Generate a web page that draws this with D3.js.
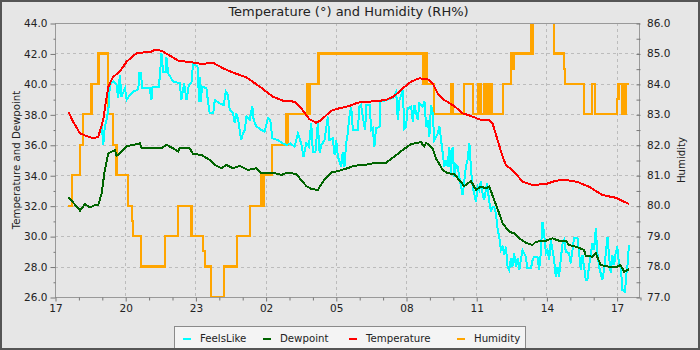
<!DOCTYPE html>
<html>
<head>
<meta charset="utf-8">
<script src="https://cdn.jsdelivr.net/npm/d3@7"></script>
<style>
  html, body { margin: 0; padding: 0; background: #e6e6e6; }
  svg { display: block; font-family: "DejaVu Sans", sans-serif; }
</style>
</head>
<body>
<svg id="chart" width="700" height="350"></svg>
<script>
// ---- data (hours after 17:00, value) ----
const xTickLabels = ["17","20","23","02","05","08","11","14","17"];
const leftTicks = [26,28,30,32,34,36,38,40,42,44];
const rightTicks = [77,78,79,80,81,82,83,84,85,86];
const seriesNames = ["FeelsLike","Dewpoint","Temperature","Humidity"];

const temperature = [[0.57,38.17],[0.78,37.5],[1.07,36.75],[1.3,36.6],[1.64,36.43],[1.85,36.53],[2.06,37.63],[2.17,38.8],[2.28,39.82],[2.49,40.47],[2.77,40.8],[3.06,41.46],[3.48,42.01],[4.12,42.12],[4.27,42.23],[4.55,42.18],[4.98,41.79],[5.26,41.53],[5.83,41.42],[6.26,41.31],[6.75,41.39],[7.18,41.03],[7.61,40.74],[8.18,40.43],[8.75,39.82],[9.31,39.16],[9.74,38.9],[10.24,38.83],[10.52,38.4],[10.88,37.67],[11.16,37.45],[11.38,37.63],[11.8,38.24],[12.16,38.4],[12.58,38.55],[12.94,38.77],[13.65,38.86],[14.15,38.94],[14.5,39.2],[14.86,39.71],[15.22,40.15],[15.57,40.37],[15.93,40.3],[16.14,40.04],[16.35,39.38],[16.64,38.94],[17.06,38.55],[17.42,38.07],[17.78,37.89],[18.2,37.63],[18.56,37.63],[18.7,37.41],[18.91,36.32],[19.13,35.22],[19.27,34.67],[19.62,34.23],[19.98,33.58],[20.41,33.36],[20.98,33.42],[21.4,33.64],[21.83,33.69],[22.32,33.56],[22.82,33.25],[23.39,32.7],[23.96,32.52],[24.53,32.11]];

const dewpoint = [[0.57,32.55],[0.78,32.2],[1.07,31.67],[1.28,32.11],[1.49,31.89],[1.71,32.04],[1.85,32.04],[1.99,32.8],[2.13,34.35],[2.28,35.44],[2.42,35.55],[2.56,35.66],[2.63,35.26],[2.84,35.55],[3.06,35.92],[3.34,35.99],[3.63,36.1],[3.7,35.77],[4.27,35.81],[4.55,35.77],[4.77,35.99],[5.05,35.77],[5.26,35.55],[5.33,35.81],[5.76,35.77],[5.9,35.4],[6.26,35.33],[6.61,35.0],[6.83,34.67],[7.11,34.46],[7.33,34.67],[7.61,34.46],[7.89,34.61],[8.25,34.35],[8.6,34.46],[8.82,34.13],[9.31,34.17],[9.67,34.02],[9.95,34.17],[10.31,34.08],[10.52,33.69],[10.74,33.29],[10.95,33.1],[11.23,33.03],[11.45,33.58],[11.8,34.17],[12.16,34.3],[12.58,34.5],[12.8,34.63],[13.23,34.67],[13.72,34.82],[14.15,34.82],[14.5,35.22],[14.86,35.66],[15.22,36.05],[15.64,36.18],[15.78,35.88],[15.86,36.14],[16.14,35.77],[16.28,35.11],[16.57,34.35],[16.78,34.13],[17.06,34.08],[17.27,33.69],[17.49,33.29],[17.78,33.62],[17.99,33.03],[18.2,33.25],[18.42,33.14],[18.56,33.25],[18.77,32.37],[18.98,31.5],[19.13,30.84],[19.41,30.29],[19.62,30.18],[19.84,29.85],[20.12,29.57],[20.41,29.42],[20.55,29.63],[20.98,29.7],[21.26,29.85],[21.54,29.7],[21.83,29.7],[21.97,29.42],[22.25,29.31],[22.61,29.09],[22.68,28.69],[22.97,28.65],[23.11,28.87],[23.32,28.1],[23.68,27.99],[23.96,27.95],[24.17,28.1],[24.32,27.66],[24.53,27.82]];

const feelsLike = [[0.57,38.17],[0.78,37.5],[1.07,36.75],[1.3,36.6],[1.64,36.43],[1.85,36.53],[2.0,37.3],[2.06,35.98],[2.13,37.19],[2.2,37.63],[2.28,38.28],[2.35,40.04],[2.49,40.15],[2.63,39.93],[2.7,39.05],[2.77,40.58],[2.84,39.16],[2.99,39.71],[3.06,38.94],[3.2,39.27],[3.34,39.49],[3.56,39.64],[3.6,40.69],[3.67,40.69],[3.73,39.71],[4.05,39.71],[4.12,38.94],[4.17,39.82],[4.44,39.82],[4.49,40.69],[4.55,42.0],[4.62,40.8],[4.74,40.8],[4.76,41.79],[4.84,40.69],[5.05,40.15],[5.33,40.04],[5.4,38.94],[5.52,40.04],[5.62,38.94],[5.72,39.93],[5.83,40.04],[5.9,41.35],[6.09,41.13],[6.16,38.83],[6.19,40.47],[6.22,38.83],[6.29,39.82],[6.47,39.71],[6.54,38.83],[6.61,38.06],[6.76,38.06],[6.83,38.94],[7.04,38.72],[7.21,38.61],[7.3,39.49],[7.39,39.27],[7.47,38.28],[7.61,38.06],[7.68,37.41],[7.75,38.06],[7.82,37.74],[7.89,36.97],[7.96,36.31],[8.03,36.75],[8.11,36.97],[8.18,37.85],[8.32,37.63],[8.43,38.55],[8.49,37.63],[8.6,37.23],[8.82,36.97],[8.96,36.86],[9.1,37.74],[9.2,37.63],[9.29,36.42],[9.53,36.31],[9.74,36.09],[9.91,35.98],[10.05,36.09],[10.24,35.88],[10.38,36.75],[10.52,36.09],[10.62,35.22],[10.74,36.09],[10.85,35.88],[10.95,37.41],[11.02,35.55],[11.13,35.55],[11.23,37.41],[11.31,35.44],[11.38,35.98],[11.52,36.31],[11.66,37.85],[11.73,36.31],[11.87,36.42],[11.95,35.33],[12.02,36.31],[12.09,35.22],[12.23,34.56],[12.3,35.55],[12.37,34.56],[12.44,36.09],[12.51,36.75],[12.58,37.85],[12.66,38.5],[12.73,36.97],[12.94,36.97],[13.01,38.5],[13.08,38.61],[13.15,37.85],[13.25,36.97],[13.31,38.61],[13.45,38.61],[13.51,36.97],[13.58,37.08],[13.65,35.88],[13.72,37.08],[13.87,37.19],[13.91,38.83],[14.15,38.94],[14.45,39.1],[14.58,39.49],[14.65,37.63],[14.72,38.94],[14.86,39.6],[14.93,37.08],[15.0,37.19],[15.07,38.39],[15.22,38.5],[15.29,37.52],[15.36,38.61],[15.5,37.63],[15.57,38.72],[15.71,38.5],[15.79,38.83],[15.86,37.19],[15.93,37.63],[16.0,36.53],[16.07,38.61],[16.14,38.06],[16.21,36.31],[16.33,36.64],[16.43,37.19],[16.5,36.31],[16.57,35.44],[16.64,34.56],[16.71,35.0],[16.78,34.56],[16.85,35.88],[16.92,34.12],[16.99,35.88],[17.07,33.9],[17.14,34.67],[17.21,34.56],[17.28,33.9],[17.35,33.25],[17.42,32.7],[17.49,33.58],[17.56,34.56],[17.63,35.0],[17.71,36.09],[17.78,34.34],[17.85,33.25],[17.99,32.26],[18.06,33.25],[18.13,33.03],[18.2,33.58],[18.27,32.81],[18.34,32.37],[18.46,33.47],[18.56,32.26],[18.63,31.6],[18.7,31.93],[18.77,31.93],[18.84,31.5],[18.91,30.51],[18.98,29.96],[19.06,29.09],[19.13,29.31],[19.2,28.76],[19.27,29.31],[19.34,27.99],[19.41,27.77],[19.48,28.54],[19.55,27.99],[19.62,28.87],[19.7,27.99],[19.77,28.54],[19.84,27.77],[19.91,28.43],[19.98,29.09],[20.12,28.65],[20.19,27.88],[20.34,27.88],[20.41,28.43],[20.48,28.65],[20.62,28.65],[20.69,27.77],[20.76,28.87],[20.83,30.95],[20.9,30.18],[20.98,28.87],[21.05,29.09],[21.12,28.43],[21.19,29.74],[21.33,28.43],[21.4,27.34],[21.47,27.99],[21.54,27.34],[21.61,28.43],[21.69,29.53],[21.76,29.74],[21.83,28.98],[21.97,28.87],[22.04,28.21],[22.18,29.85],[22.33,29.85],[22.4,28.87],[22.47,27.77],[22.54,28.76],[22.61,27.99],[22.68,27.12],[22.75,27.12],[22.82,27.99],[22.89,28.76],[22.97,29.53],[23.04,29.09],[23.11,30.51],[23.18,28.87],[23.25,27.99],[23.32,27.56],[23.39,27.12],[23.46,27.77],[23.54,28.87],[23.61,29.96],[23.68,28.65],[23.75,27.56],[23.82,28.76],[23.89,28.1],[23.96,28.87],[24.03,29.31],[24.1,28.21],[24.18,27.99],[24.25,26.46],[24.36,26.35],[24.42,27.56],[24.46,27.99],[24.53,29.42]];

const humidity = [[0.57,80],[0.74,81],[1.07,82],[1.18,83],[1.56,84],[1.86,85],[2.28,83],[2.49,82],[2.63,81],[3.13,80],[3.3,79.5],[3.34,79],[3.67,78],[4.69,79],[5.26,80],[5.83,79],[6.33,78.5],[6.4,78],[6.66,77],[7.21,78],[7.79,79],[8.32,80],[8.79,81],[8.83,80],[8.86,81],[8.89,80],[8.91,81],[9.29,82],[9.88,83],[9.91,82],[9.95,83],[10.76,84],[10.8,83],[10.84,84],[10.88,83],[10.9,84],[11.26,85],[15.71,84],[15.75,85],[15.8,84],[15.84,85],[15.88,84],[16.18,83],[16.93,84],[16.99,83],[17.49,84],[17.85,83],[18.07,84],[18.11,83],[18.16,84],[18.2,83],[18.35,84],[18.39,83],[18.42,84],[18.46,83],[18.56,84],[18.6,83],[18.63,84],[18.65,83],[19.13,84],[19.48,85],[19.55,84.5],[19.62,85],[20.33,87],[20.37,85],[20.41,87],[21.33,85],[21.76,84.5],[21.8,84],[22.61,83],[22.94,84],[23.08,83],[24.03,83.5],[24.08,84],[24.25,83],[24.3,84],[24.35,83],[24.39,84],[24.53,84]];

// ---- layout ----
const W = 700, H = 350;
const L = 55, R = 640, T = 23, B = 297;
const svg = d3.select("#chart");
const textColor = "#222";
const axisColor = "#999";

svg.append("rect").attr("x",1).attr("y",1).attr("width",W-2).attr("height",H-2)
  .attr("fill","#e6e6e6").attr("stroke","#555").attr("stroke-width",2);

const x = d3.scaleLinear().domain([0,25]).range([L,R]);
const yL = d3.scaleLinear().domain([26,44]).range([B,T]);
const yR = d3.scaleLinear().domain([77,86]).range([B,T]);

// grid
const g = svg.append("g");
g.selectAll(".vg").data(d3.range(3,25,3)).join("line")
  .attr("x1",d=>Math.round(x(d))+0.5).attr("x2",d=>Math.round(x(d))+0.5)
  .attr("y1",T).attr("y2",B)
  .attr("stroke","#bcbcbc").attr("stroke-dasharray","3,3");
g.selectAll(".hg").data(leftTicks.slice(1,-1)).join("line")
  .attr("y1",d=>Math.round(yL(d))+0.5).attr("y2",d=>Math.round(yL(d))+0.5)
  .attr("x1",L).attr("x2",R)
  .attr("stroke","#bcbcbc").attr("stroke-dasharray","3,3");

// clip
svg.append("clipPath").attr("id","clip").append("rect")
  .attr("x",L).attr("y",T+1).attr("width",R-L).attr("height",B-T-1);

const plot = svg.append("g").attr("clip-path","url(#clip)");

const lineR = d3.line().x(d=>x(d[0])).y(d=>yR(d[1])).curve(d3.curveStepAfter);
const lineL = d3.line().x(d=>x(d[0])).y(d=>yL(d[1]));

plot.append("path").datum(humidity).attr("d",lineR)
  .attr("fill","none").attr("stroke","#ffa500").attr("stroke-width",2.2);
plot.append("path").datum(feelsLike).attr("d",lineL)
  .attr("fill","none").attr("stroke","#00ffff").attr("stroke-width",2);
plot.append("path").datum(dewpoint).attr("d",lineL)
  .attr("fill","none").attr("stroke","#006400").attr("stroke-width",2);
plot.append("path").datum(temperature).attr("d",lineL)
  .attr("fill","none").attr("stroke","#ff0000").attr("stroke-width",2);
plot.selectAll("path").attr("shape-rendering","crispEdges");

// plot border
svg.append("rect").attr("x",L+0.5).attr("y",T+0.5).attr("width",R-L-1).attr("height",B-T)
  .attr("fill","none").attr("stroke",axisColor);

// x axis
const xAxis = d3.axisBottom(x)
  .tickValues(d3.range(0,25,3))
  .tickFormat((d,i)=>xTickLabels[i])
  .tickSize(4).tickPadding(3);
const xg = svg.append("g").attr("transform",`translate(0.5,${B+0.5})`).call(xAxis);
const xm = d3.axisBottom(x).tickValues(d3.range(0,26,1).filter(d=>d%3!==0)).tickFormat("").tickSize(3);
const xmg = svg.append("g").attr("transform",`translate(0.5,${B+0.5})`).call(xm);

// left axis
const yAxis = d3.axisLeft(yL).tickValues(leftTicks).tickFormat(d3.format(".1f")).tickSize(5).tickPadding(3);
const yg = svg.append("g").attr("transform",`translate(${L+0.5},0.5)`).call(yAxis);
const ym = d3.axisLeft(yL).tickValues(d3.range(27,44,2)).tickFormat("").tickSize(2);
const ymg = svg.append("g").attr("transform",`translate(${L+0.5},0.5)`).call(ym);

// right axis (ticks inward)
const rAxis = d3.axisRight(yR).tickValues(d3.range(77,86.01,0.5)).tickFormat("").tickSize(-4);
const rg = svg.append("g").attr("transform",`translate(${R+0.5},0.5)`).call(rAxis);
svg.append("g").selectAll("text").data(rightTicks).join("text")
  .attr("x",R+7).attr("y",d=>yR(d)).attr("dy","0.36em")
  .text(d=>d3.format(".1f")(d));

[xg,xmg,yg,ymg,rg].forEach(s=>{
  s.select(".domain").remove();
  s.selectAll(".tick line").attr("stroke","#777");
});
svg.selectAll("text").attr("fill",textColor).style("font-size","10.5px").style("font-family","'DejaVu Sans', sans-serif");

// title
svg.append("text").attr("x",(L+R)/2+1).attr("y",15.5).attr("text-anchor","middle")
  .attr("fill",textColor).style("font-size","13px").text("Temperature (°) and Humidity (RH%)");

// axis labels
svg.append("text").attr("transform",`translate(20,160) rotate(-90)`).attr("text-anchor","middle")
  .attr("fill",textColor).style("font-size","10.2px").text("Temperature and Dewpoint");
svg.append("text").attr("transform",`translate(685,160) rotate(-90)`).attr("text-anchor","middle")
  .attr("fill",textColor).style("font-size","10.2px").text("Humidity");

// legend
const legendColors = ["#00ffff","#006400","#ff0000","#ffa500"];
const legendX = [183, 263, 349, 457];
const lg = svg.append("g");
lg.append("rect").attr("x",174.5).attr("y",326.5).attr("width",351).attr("height",30)
  .attr("fill","#f4f4f4").attr("stroke","#8a8a8a");
seriesNames.forEach((n,i)=>{
  lg.append("line").attr("x1",legendX[i]).attr("x2",legendX[i]+8).attr("y1",339).attr("y2",339)
    .attr("stroke",legendColors[i]).attr("stroke-width",2);
  lg.append("text").attr("x",legendX[i]+17).attr("y",341.5).attr("fill",textColor)
    .style("font-size","10.2px").text(n);
});
// outer frame on top
svg.append("rect").attr("x",1).attr("y",1).attr("width",W-2).attr("height",H-2)
  .attr("fill","none").attr("stroke","#555").attr("stroke-width",2);
</script>
</body>
</html>
